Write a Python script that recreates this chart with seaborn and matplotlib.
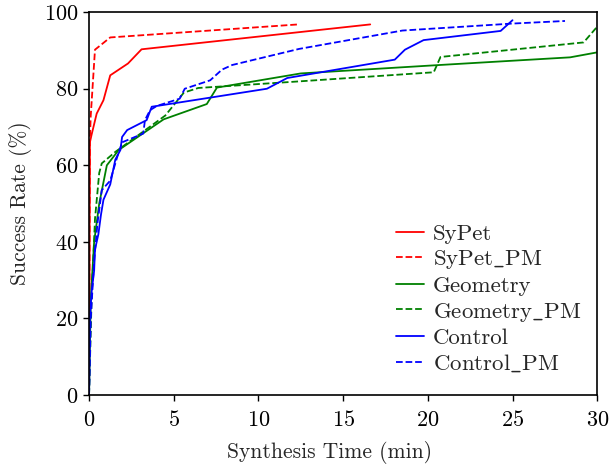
import numpy as np
import pandas as pd
import seaborn as sns
import matplotlib.pyplot as plt

# values (minutes, % solved)
sypet_x = [0, 0.05, 0.15, 0.45, 0.85, 1.25, 2.3, 3.1, 16.6]
sypet_y = [0, 66, 68, 73.5, 77, 83.5, 86.6, 90.3, 96.8]

sypet_pm_x = [0, 0.05, 0.1, 0.35, 1.25, 12.35]
sypet_pm_y = [0, 67, 73, 90.2, 93.4, 96.8]

geo_x = [0, 0.1, 0.3, 0.6, 1.05, 1.75, 4.4, 6.95, 7.55, 12.5, 20.7, 28.4, 30]
geo_y = [0, 25, 40, 50, 60, 64, 72, 76, 80.3, 84, 86.2, 88.2, 89.5]

geo_pm_x = [0, 0.15, 0.35, 0.6, 0.75, 1.15, 1.55, 4.5, 5.6, 6.45, 12, 20.35, 20.75, 29.2, 30]
geo_pm_y = [0, 25, 46, 58, 60.5, 62, 63.5, 73, 79, 80.2, 81.8, 84.3, 88.3, 92.1, 96.2]

ctrl_x = [0, 0.05, 0.15, 0.3, 0.35, 0.55, 0.7, 0.85, 1.25, 1.55, 1.85, 1.95, 2.25,
          3.4, 3.7, 4.3, 10.5, 11.7, 18.05, 18.65, 19.75, 24.3, 25.0]
ctrl_y = [0, 20, 27, 32.5, 38, 42, 47, 51, 55, 61.5, 64, 67.4, 69.2,
          71.8, 75.3, 75.7, 80, 82.8, 87.6, 90.2, 92.7, 95.1, 97.9]

ctrl_pm_x = [0, 0.1, 0.3, 0.5, 0.75, 1.25, 1.65, 1.95, 3.2, 3.3, 3.6, 4.0, 5.35,
             5.65, 7.15, 7.85, 8.45, 12.4, 18.5, 24.9, 28.1]
ctrl_pm_y = [0, 20, 35, 45, 53.5, 56, 62, 66, 68.3, 71.8, 74.4, 75.5, 77.4,
             80, 82.2, 85, 86.2, 90.4, 95.2, 97, 97.7]

# cmr10 has no "_" glyph, so the underscore goes through mathtext
series = [
    ("SyPet", sypet_x, sypet_y, "red", "-"),
    (r"SyPet$\_$PM", sypet_pm_x, sypet_pm_y, "red", "--"),
    ("Geometry", geo_x, geo_y, "green", "-"),
    (r"Geometry$\_$PM", geo_pm_x, geo_pm_y, "green", "--"),
    ("Control", ctrl_x, ctrl_y, "blue", "-"),
    (r"Control$\_$PM", ctrl_pm_x, ctrl_pm_y, "blue", "--"),
]

sns.set_style("ticks")
plt.rcParams['font.family'] = ['cmr10', 'DejaVu Serif']
plt.rcParams['mathtext.fontset'] = 'cm'
plt.rcParams['axes.unicode_minus'] = False
plt.rcParams['axes.formatter.use_mathtext'] = True

fig = plt.figure(figsize=(6.1, 4.68), dpi=100)
ax = fig.add_axes([0.146, 0.156, 0.833, 0.818])

for name, xs, ys, col, ls in series:
    df = pd.DataFrame({"x": xs, "y": ys})
    sns.lineplot(data=df, x="x", y="y", ax=ax, color=col, linestyle=ls,
                 linewidth=1.3, estimator=None, sort=False, label=name)

ax.set_xlim(0, 30)
ax.set_ylim(0, 100)
ax.set_xticks(range(0, 31, 5))
ax.set_yticks(range(0, 101, 20))
ax.tick_params(labelsize=16, direction="out", length=4, width=1, colors="black")
ax.tick_params(axis="x", pad=7)
for s in ax.spines.values():
    s.set_color("black")
    s.set_linewidth(1.2)
ax.set_xlabel("Synthesis Time (min)", fontsize=15.5, labelpad=8)
ax.xaxis.label.set_x(0.474)
ax.set_ylabel("Success Rate (%)", fontsize=15.5, labelpad=9)

ax.legend(loc="lower right", frameon=False, fontsize=16.5, handlelength=1.2,
          handletextpad=0.4, labelspacing=0.2, bbox_to_anchor=(1.01, 0.0))

plt.savefig("out.png", dpi=100)
